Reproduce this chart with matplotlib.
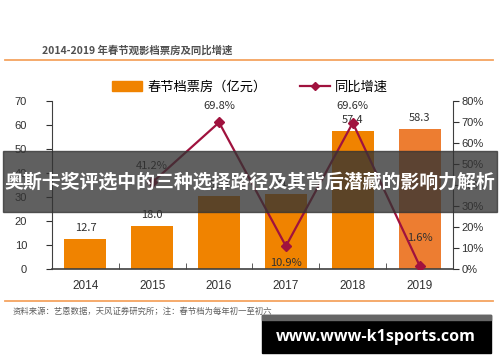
import matplotlib
matplotlib.use("Agg")
import matplotlib.pyplot as plt
from matplotlib.patches import Rectangle
from matplotlib.lines import Line2D

plt.rcParams['font.family'] = ['Liberation Sans', 'Noto Sans CJK SC', 'DejaVu Sans']

# 数据
years = ["2014", "2015", "2016", "2017", "2018", "2019"]
box_office = [12.7, 18.0, 30.4, 31.3, 57.4, 58.3]
growth_years = ["2015", "2016", "2017", "2018", "2019"]
growth = [41.2, 69.8, 10.9, 69.6, 1.6]
growth_labels = ["41.2%", "69.8%", "10.9%", "69.6%", "1.6%"]

W, H = 500, 362
fig = plt.figure(figsize=(5, 3.62), dpi=100)

def fx(x):
    return x / W

def fy(y):
    return 1 - y / H

ORANGE = "#F08300"
ORANGE2 = "#ED7D31"
RED = "#A0123E"
CJK = ['Noto Sans CJK SC', 'DejaVu Sans']

# 标题和分隔线
fig.text(fx(42), fy(50), "2014-2019 年春节观影档票房及同比增速", fontsize=7.5,
         fontweight='bold', color="#505050", va='center', family=CJK)
fig.add_artist(Line2D([fx(5), fx(493)], [fy(60), fy(60)], color="#F4A460", lw=1.3))
fig.add_artist(Line2D([fx(5), fx(493)], [fy(301), fy(301)], color="#F4A460", lw=1.3))
fig.text(fx(13), fy(311), "资料来源：艺恩数据，天风证券研究所；注：春节档为每年初一至初六",
         fontsize=6, color="#606060", va='center', family=CJK)

# 主图
ax = fig.add_axes([fx(52), fy(269), fx(453) - fx(52), fy(101) - fy(269)])
x = list(range(len(years)))
colors = [ORANGE] * 5 + [ORANGE2]
ax.bar(x, box_office, width=0.63, color=colors, zorder=2)
for xi, v in zip(x, box_office):
    ax.text(xi, v + 2.5, f"{v:.1f}", ha='center', va='bottom', fontsize=8,
            color="#303030", family=CJK)

ax.set_xlim(-0.5, 5.5)
ax.set_ylim(0, 70)
ax.set_yticks(range(0, 71, 10))
ax.set_xticks(x)
ax.set_xticklabels(years, fontsize=8.5, color="#303030")
ax.set_xticks([i + 0.5 for i in range(5)], minor=True)
ax.tick_params(axis='x', which='major', length=0, pad=8)
ax.tick_params(axis='x', which='minor', direction='in', length=4, color="#404040")
ax.tick_params(axis='y', labelsize=8, colors="#303030", length=4, pad=14)
for s in ["top", "right"]:
    ax.spines[s].set_visible(False)
ax.spines["left"].set_color("#404040")
ax.spines["bottom"].set_color("#404040")
ax.spines["left"].set_linewidth(0.8)
ax.spines["bottom"].set_linewidth(1.2)

ax2 = ax.twinx()
gx = [years.index(y) for y in growth_years]
ax2.plot(gx, growth, color=RED, lw=1.6, marker='D', markersize=5, zorder=3)
ax2.set_ylim(0, 80)
ax2.set_yticks(range(0, 81, 10))
ax2.set_yticklabels([f"{v}%" for v in range(0, 81, 10)])
ax2.tick_params(axis='y', labelsize=8, colors="#303030", length=4, pad=2)
for s in ["top", "left", "bottom"]:
    ax2.spines[s].set_visible(False)
ax2.spines["right"].set_color("#404040")
ax2.spines["right"].set_linewidth(0.8)
offsets = [12, 12, -12, 12, 20]
for xi, v, lab, off in zip(gx, growth, growth_labels, offsets):
    ax2.annotate(lab, (xi, v), xytext=(0, off), textcoords='offset points',
                 ha='center', va='center', fontsize=8, color="#303030", family=CJK)

# 图例
leg = [Rectangle((0, 0), 1, 1, color=ORANGE),
       Line2D([], [], color=RED, lw=1.6, marker='D', markersize=4)]
fig.legend(leg, ["春节档票房（亿元）", "同比增速"], loc='center', bbox_to_anchor=(0.5, fy(87)),
           ncol=2, frameon=False, prop={'family': CJK, 'size': 9.5}, handlelength=2.3,
           columnspacing=2.5, handletextpad=0.4)

# 横幅
fig.add_artist(Rectangle((fx(3), fy(212)), fx(494), fy(151) - fy(212),
                         color="#333333", alpha=0.78, zorder=10))
fig.text(0.5, fy(182), "奥斯卡奖评选中的三种选择路径及其背后潜藏的影响力解析", ha='center',
         va='center', fontsize=13.6, fontweight='bold', color='white', family=CJK, zorder=11)

# 水印
fig.add_artist(Rectangle((fx(262), fy(353)), fx(229), fy(315) - fy(353),
                         color="black", zorder=10))
fig.add_artist(Rectangle((fx(262), fy(320)), fx(229), fy(315) - fy(320),
                         color="#666666", zorder=11))
fig.text(fx(376), fy(337), "www.www-k1sports.com", ha='center', va='center',
         fontsize=11.5, fontweight='bold', color='white', family=['Open Sans', 'DejaVu Sans'], zorder=12)

fig.savefig("out.png", dpi=100)
